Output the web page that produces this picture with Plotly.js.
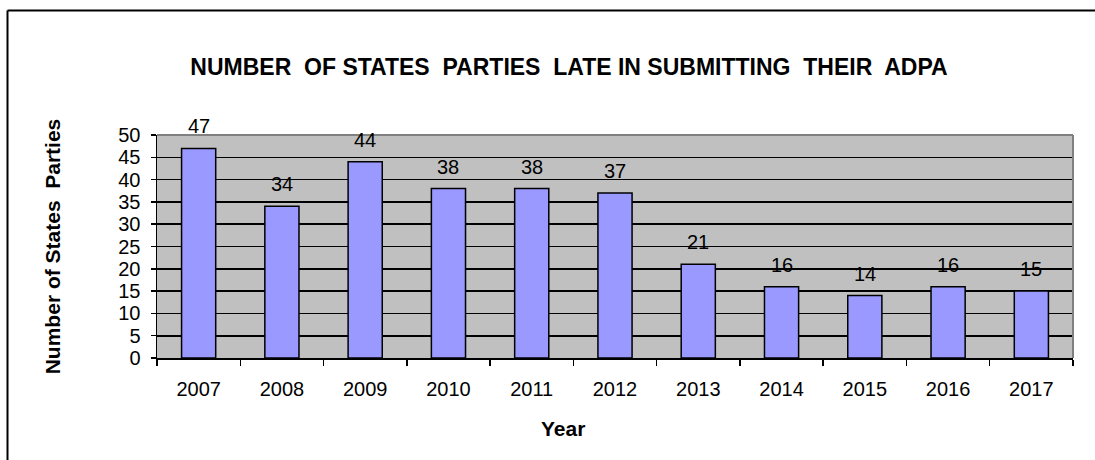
<!DOCTYPE html>
<html>
<head>
<meta charset="utf-8">
<script src="https://cdn.plot.ly/plotly-3.0.1.min.js"></script>
<style>
  html, body { margin: 0; padding: 0; background: #ffffff; }
  #chart { width: 1095px; height: 460px; }
</style>
</head>
<body>
<div id="chart"></div>
<script>
const years = ['2007', '2008', '2009', '2010', '2011', '2012', '2013', '2014', '2015', '2016', '2017'];
const lateStates = [47, 34, 44, 38, 38, 37, 21, 16, 14, 16, 15];
const yTicks = [0, 5, 10, 15, 20, 25, 30, 35, 40, 45, 50];

const chartTitle = 'NUMBER  OF STATES  PARTIES  LATE IN SUBMITTING  THEIR  ADPA';
const yTitle = 'Number of States  Parties';
const xTitle = 'Year';

const FONT = 'Arial, "Liberation Sans", sans-serif';

const trace = {
  type: 'bar',
  x: years,
  y: lateStates,
  marker: { color: '#9999FF', line: { color: '#000000', width: 1.5 } },
  hoverinfo: 'x+y'
};

const labelAnnotations = years.map((yr, i) => ({
  x: i, y: lateStates[i], xref: 'x', yref: 'y',
  text: String(lateStates[i]),
  showarrow: false, yanchor: 'bottom', yshift: 9,
  font: { family: FONT, size: 20, color: '#000000' }
}));

const layout = {
  width: 1095, height: 460,
  margin: { l: 157, r: 22, t: 135, b: 102, pad: 0 },
  paper_bgcolor: '#ffffff',
  plot_bgcolor: '#C0C0C0',
  showlegend: false,
  bargap: 0.59,
  font: { family: FONT, size: 20, color: '#000000' },
  title: {
    text: '<b>' + chartTitle + '</b>',
    font: { family: FONT, size: 23, color: '#000000' },
    x: 569 / 1095, xref: 'container', xanchor: 'center',
    y: 1 - 67 / 460, yref: 'container', yanchor: 'middle'
  },
  xaxis: {
    type: 'category',
    categoryorder: 'array', categoryarray: years,
    range: [-0.5, years.length - 0.5], autorange: false,
    showgrid: false,
    showline: true, linecolor: '#000000', linewidth: 1.5,
    ticks: 'outside', tickson: 'boundaries', ticklen: 6, tickwidth: 1.5, tickcolor: '#000000',
    tickfont: { family: FONT, size: 20, color: '#000000' },
    tickangle: 0,
    ticklabelstandoff: 12,
    zeroline: false
  },
  yaxis: {
    range: [0, 50], autorange: false,
    tickvals: yTicks,
    ticktext: yTicks.map(String),
    showgrid: true, gridcolor: '#000000', gridwidth: 1.6,
    showline: true, linecolor: '#000000', linewidth: 1.5,
    ticks: 'outside', ticklen: 5, tickwidth: 1.5, tickcolor: '#000000',
    tickfont: { family: FONT, size: 20, color: '#000000' },
    ticklabelstandoff: 6,
    zeroline: false,
    title: {
      text: '<b>' + yTitle + '</b>',
      font: { family: FONT, size: 21, color: '#000000' },
      standoff: 52
    }
  },
  annotations: labelAnnotations.concat([{
    text: '<b>' + xTitle + '</b>',
    xref: 'paper', yref: 'paper',
    x: (563 - 157) / 916, y: -(428 - 358) / 223,
    xanchor: 'center', yanchor: 'middle', showarrow: false,
    font: { family: FONT, size: 21, color: '#000000' }
  }]),
  shapes: [
    { type: 'line', xref: 'paper', yref: 'paper', x0: 0, x1: 1, y0: 1, y1: 1,
      line: { color: '#808080', width: 2 }, layer: 'above' },
    { type: 'line', xref: 'paper', yref: 'paper', x0: 1, x1: 1, y0: 0, y1: 1,
      line: { color: '#808080', width: 2 }, layer: 'above' },
    { type: 'line', xref: 'paper', yref: 'paper',
      x0: (7.5 - 157) / 916, x1: (7.5 - 157) / 916, y0: 1 + (135 - 10.5) / 223, y1: -1,
      line: { color: '#000000', width: 2 }, layer: 'above' },
    { type: 'line', xref: 'paper', yref: 'paper',
      x0: (7.5 - 157) / 916, x1: (1100 - 157) / 916, y0: 1 + (135 - 10.5) / 223, y1: 1 + (135 - 10.5) / 223,
      line: { color: '#000000', width: 2 }, layer: 'above' }
  ]
};

Plotly.newPlot('chart', [trace], layout, { displayModeBar: false, staticPlot: true });
</script>
</body>
</html>
